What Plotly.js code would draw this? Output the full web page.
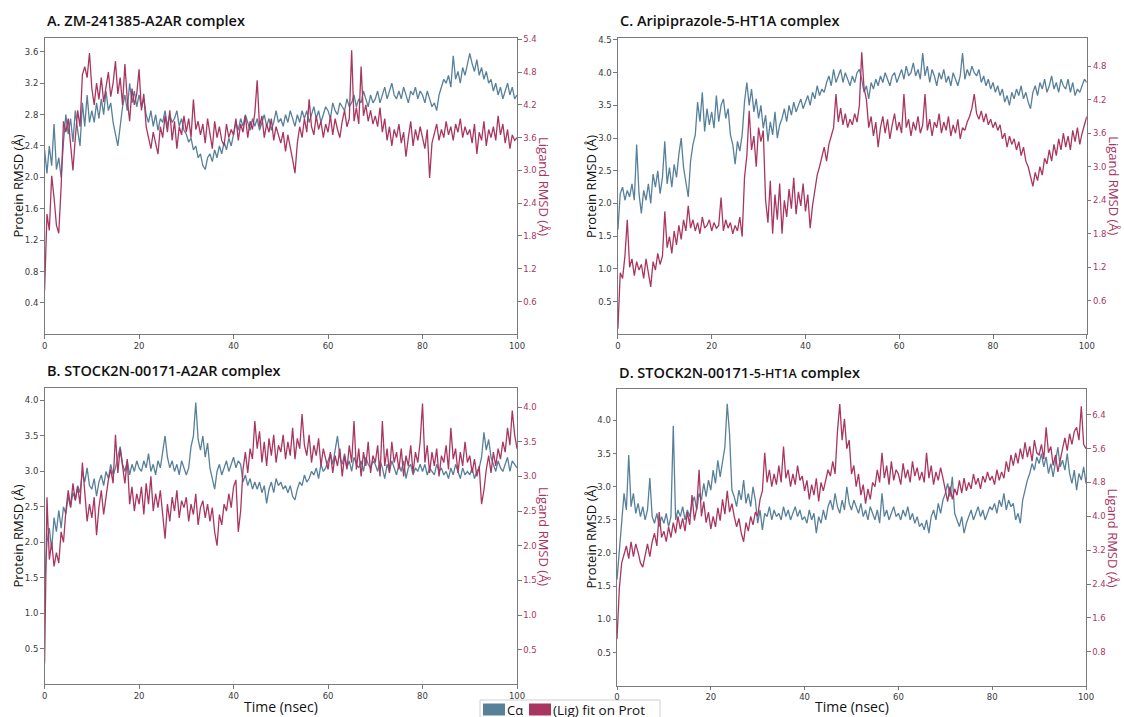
<!DOCTYPE html>
<html>
<head>
<meta charset="utf-8">
<script src="https://cdn.plot.ly/plotly-3.0.1.min.js"></script>
<style>html,body{margin:0;padding:0;background:#fff}#chart{width:1124px;height:717px}</style>
</head>
<body>
<div id="chart"></div>
<script>
// Time step of the sampled values (ns)
const timeStep = 0.5;

// Panel A: ZM-241385-A2AR
const protA = [
2.35,2.05,2.40,2.15,2.68,2.10,2.25,2.00,2.45,2.80,
2.55,2.75,2.45,2.85,2.60,2.40,2.95,2.65,3.05,2.70,
2.85,2.70,2.95,2.75,3.00,2.80,3.10,2.85,2.95,2.70,
2.55,2.40,2.65,2.90,3.05,2.85,3.20,2.95,3.10,2.90,
3.05,2.90,3.00,2.80,2.70,2.85,2.65,2.80,2.60,2.75,
2.70,2.85,2.65,2.80,2.70,2.75,2.85,2.65,2.75,2.60,
2.55,2.45,2.50,2.35,2.40,2.25,2.30,2.15,2.10,2.25,
2.30,2.20,2.35,2.25,2.40,2.30,2.45,2.35,2.50,2.40,
2.55,2.70,2.60,2.75,2.65,2.80,2.70,2.60,2.75,2.65,
2.75,2.60,2.70,2.80,2.65,2.75,2.60,2.70,2.85,2.70,
2.75,2.65,2.80,2.70,2.85,2.75,2.65,2.80,2.70,2.85,
2.75,2.85,2.70,2.80,2.90,2.75,2.85,2.70,2.80,2.90,
2.85,2.75,2.95,2.85,2.80,2.95,2.90,2.85,3.00,2.90,
2.95,3.05,2.90,3.00,2.95,3.10,3.00,2.90,3.05,2.95,
3.00,3.10,2.95,3.05,3.15,3.00,3.10,3.20,3.05,3.00,
3.10,3.00,3.15,3.05,2.95,3.10,3.05,3.15,3.00,3.10,
3.05,2.95,3.10,3.00,2.90,2.95,2.85,3.05,3.15,3.25,
3.20,3.30,3.15,3.55,3.25,3.35,3.20,3.40,3.30,3.45,
3.58,3.45,3.35,3.50,3.30,3.40,3.25,3.35,3.20,3.25,
3.10,3.20,3.05,3.15,3.00,3.10,3.20,3.05,3.15,3.00,
3.05];
const ligA = [
0.80,2.20,1.90,2.90,2.50,2.00,1.85,2.70,3.90,3.70,
3.95,3.40,3.00,3.60,4.10,3.80,4.75,4.90,4.70,5.15,
4.50,4.20,4.60,4.30,4.70,4.25,4.50,4.80,4.35,4.60,
5.00,4.40,4.70,4.20,4.95,4.30,3.90,4.50,4.20,4.40,
4.85,4.10,4.40,3.80,3.60,3.40,3.70,3.50,3.30,3.80,
3.60,4.00,3.70,4.10,3.55,3.90,3.40,3.80,3.65,4.00,
3.70,3.95,3.60,4.30,3.75,3.90,3.65,3.85,3.50,3.95,
3.70,3.40,3.90,3.60,3.80,3.55,3.45,3.85,3.60,3.75,
3.65,3.95,3.55,3.85,3.70,4.00,3.60,3.90,3.75,4.05,
4.65,3.80,4.00,3.60,3.85,3.70,3.95,3.55,3.80,3.65,
3.50,3.70,3.35,3.65,3.45,3.20,2.95,3.50,3.80,3.60,
3.95,3.70,4.30,3.80,3.65,4.00,3.75,3.90,3.60,3.85,
3.70,4.00,3.65,3.95,3.75,3.60,3.90,4.10,3.80,3.95,
5.20,3.90,4.15,3.85,4.90,4.00,4.20,3.90,4.10,3.85,
4.00,3.80,4.15,3.70,3.95,3.55,3.80,3.45,3.75,3.60,
3.85,3.50,3.70,3.25,3.60,3.90,3.45,3.75,3.55,3.80,
3.60,3.40,3.75,2.86,3.50,3.70,3.85,3.55,3.75,3.60,
3.90,3.65,3.80,3.55,3.85,3.70,3.95,3.60,3.80,3.65,
3.75,3.50,3.85,3.30,3.70,3.55,3.90,3.45,3.75,3.60,
3.80,3.55,4.00,3.65,3.85,3.50,3.75,3.40,3.65,3.55,
3.60];

// Panel C: Aripiprazole-5-HT1A
const protC = [
1.60,2.15,2.25,2.05,2.20,2.10,2.30,2.05,2.90,2.15,
1.85,2.20,2.05,2.30,2.00,2.45,2.25,2.50,2.15,2.40,
2.95,2.30,2.55,2.25,2.60,2.40,2.75,3.00,2.55,2.30,
2.10,2.65,2.90,3.05,3.55,3.25,3.70,3.10,3.45,3.20,
3.40,3.15,3.65,3.25,3.50,3.60,3.30,3.45,3.05,2.90,
2.60,2.95,2.80,3.05,3.55,3.85,3.50,3.75,3.40,3.60,
3.30,3.50,3.15,3.35,2.95,3.25,3.05,3.40,3.00,3.20,
3.30,3.45,3.25,3.50,3.35,3.55,3.40,3.50,3.60,3.45,
3.55,3.65,3.50,3.70,3.60,3.80,3.65,3.75,3.70,3.85,
3.95,3.80,4.05,3.85,3.95,4.05,3.85,4.00,3.90,3.80,
3.95,3.85,4.00,4.05,3.90,3.70,3.80,3.60,3.85,3.75,
3.90,3.80,3.95,3.85,4.00,3.90,3.80,3.95,4.00,3.85,
3.95,4.05,3.90,4.10,3.95,4.00,4.15,3.95,4.05,3.90,
4.30,3.95,4.10,3.85,4.05,3.95,3.80,4.00,3.90,4.05,
3.85,3.95,3.80,4.00,3.90,3.80,3.95,4.30,3.90,4.05,
3.95,4.10,4.00,3.95,4.05,3.85,3.95,3.80,3.90,3.75,
3.85,3.70,3.80,3.65,3.75,3.55,3.65,3.50,3.70,3.60,
3.75,3.65,3.80,3.60,3.70,3.55,3.45,3.70,3.80,3.65,
3.85,3.75,3.90,3.70,3.80,3.95,3.75,3.85,3.70,3.90,
3.80,3.75,3.90,3.70,3.85,3.65,3.75,3.70,3.80,3.90,
3.85];
const ligC = [
0.10,1.10,1.00,1.40,2.05,1.20,1.35,1.05,1.30,1.15,
1.25,1.00,1.35,1.10,0.85,1.30,1.15,1.45,1.25,1.40,
2.20,1.55,1.75,1.45,1.85,1.60,1.95,1.70,2.05,1.85,
2.30,1.90,2.05,1.85,2.00,1.80,2.10,1.90,1.95,2.05,
1.85,2.00,1.90,1.95,2.45,1.85,2.05,1.90,2.00,1.80,
1.95,1.85,2.10,1.75,2.80,3.20,4.00,3.30,3.55,3.00,
3.70,3.45,3.65,2.40,2.00,2.75,1.80,2.50,2.05,2.70,
1.80,2.40,2.10,2.60,2.25,2.80,2.15,2.55,2.30,2.70,
2.20,2.50,1.90,2.30,2.60,2.85,3.00,3.20,3.35,3.10,
3.40,3.55,3.70,4.30,3.80,4.05,3.75,3.95,3.70,3.85,
3.75,3.95,3.80,4.10,5.05,4.40,4.20,3.70,3.90,3.55,
3.80,3.35,3.70,3.90,3.60,3.85,3.50,3.75,3.95,3.65,
3.80,3.60,4.30,3.70,3.85,3.55,3.80,3.65,3.90,3.60,
3.75,4.30,3.65,3.85,3.55,3.80,3.70,3.95,3.60,3.80,
3.65,3.90,3.55,3.75,3.60,3.85,3.50,3.70,3.65,3.80,
3.90,4.05,4.30,3.95,3.85,4.00,3.80,3.95,3.75,3.85,
3.70,3.80,3.65,3.75,3.50,3.60,3.35,3.55,3.40,3.50,
3.30,3.45,3.20,3.35,3.10,3.00,2.80,2.65,2.90,2.75,
3.00,2.85,3.15,3.05,3.30,3.10,3.40,3.20,3.50,3.30,
3.60,3.35,3.55,3.30,3.65,3.45,3.70,3.40,3.60,3.75,
3.90];

// Panel B: STOCK2N-00171-A2AR
const protB = [
1.40,2.00,2.20,1.90,2.35,2.15,2.45,2.20,2.50,2.40,
2.65,2.50,2.70,2.60,2.80,2.70,3.00,2.85,3.05,2.80,
2.75,2.90,2.65,2.85,2.95,2.80,3.00,2.90,3.10,2.95,
3.05,3.20,3.35,3.10,3.00,3.15,2.95,3.10,3.00,3.15,
3.05,3.00,3.15,3.05,3.25,3.00,3.10,2.95,3.15,3.05,
3.25,3.50,3.20,3.05,3.15,3.00,3.10,2.95,3.15,3.05,
2.95,3.05,3.35,3.50,3.97,3.45,3.30,3.50,3.20,3.40,
3.05,2.90,2.75,3.00,3.10,2.95,3.05,3.15,3.00,3.10,
3.20,3.05,3.15,3.10,2.85,2.95,2.80,2.90,2.75,2.85,
2.75,2.85,2.70,2.80,2.55,2.75,2.85,2.70,2.90,2.80,
2.85,2.75,2.80,2.70,2.80,2.65,2.60,2.75,2.85,2.80,
2.95,2.85,2.90,3.00,2.95,3.05,2.90,3.10,3.00,3.05,
3.15,3.25,3.10,3.30,3.50,3.20,3.10,3.25,3.05,3.15,
3.00,3.20,3.10,3.05,3.15,3.00,3.20,3.10,3.05,3.15,
3.10,3.00,3.15,3.05,2.90,3.10,3.00,3.15,3.05,2.95,
3.10,3.00,3.15,2.90,3.05,3.10,2.95,3.05,3.00,3.10,
3.00,3.10,2.95,3.05,3.00,2.95,3.10,3.00,3.05,2.95,
3.00,2.90,3.05,2.95,3.10,3.00,2.90,3.05,2.95,3.00,
2.95,3.05,2.90,3.00,3.05,3.20,3.55,3.30,3.45,3.20,
3.10,3.00,3.15,3.05,3.00,3.10,3.20,3.00,3.15,3.10,
3.05];
const ligB = [
0.30,2.70,1.80,2.05,1.70,1.90,1.75,2.20,2.05,2.50,
2.80,2.55,2.90,2.65,2.85,2.60,3.20,2.70,2.35,2.60,
2.40,2.70,2.15,2.55,2.80,2.45,2.70,2.95,3.10,2.90,
3.60,3.05,3.40,3.15,2.90,3.25,2.60,2.85,2.50,2.75,
2.60,2.85,2.45,2.90,2.60,3.00,2.50,2.75,2.55,2.80,
2.40,2.10,2.60,2.35,2.70,2.50,2.80,2.40,2.65,2.55,
2.70,2.35,2.60,2.45,2.75,2.30,2.55,2.65,2.40,2.60,
2.35,2.55,2.20,2.00,2.45,2.30,2.60,2.50,2.75,2.55,
2.85,2.95,2.20,2.50,3.10,3.35,3.05,3.40,3.25,3.80,
3.40,3.65,3.20,3.50,3.15,3.55,3.30,3.60,3.20,3.45,
3.35,3.60,3.25,3.50,3.30,3.70,3.25,3.55,3.40,3.90,
3.45,3.30,3.60,3.20,3.45,3.30,3.55,3.15,3.40,3.25,
3.10,3.35,3.05,3.30,3.15,3.40,3.00,3.30,3.10,3.45,
3.20,3.80,3.10,3.40,3.00,3.35,3.15,3.50,3.05,3.30,
3.20,3.45,3.00,3.80,3.15,3.40,3.05,3.50,3.20,3.35,
3.10,3.40,3.00,3.30,3.15,3.45,3.05,3.35,3.20,3.50,
4.05,3.20,3.45,3.05,3.35,3.15,3.40,3.00,3.30,3.20,
3.45,3.10,3.70,3.25,3.40,3.05,3.35,3.15,3.50,3.20,
3.30,3.05,3.25,3.00,3.15,2.60,2.80,3.10,3.30,3.05,
3.35,3.15,3.40,3.25,3.50,3.35,3.70,3.45,3.95,3.60,
3.40];

// Panel D: STOCK2N-00171-5-HT1A
const protD = [
1.60,2.05,2.40,2.90,2.65,3.48,2.70,2.90,2.60,2.75,
2.55,2.70,2.50,2.65,3.13,2.55,2.45,2.60,2.40,2.55,
2.45,2.60,2.40,2.55,3.92,2.50,2.65,2.55,2.70,2.50,
2.65,2.55,2.75,2.85,2.65,2.90,2.80,3.05,2.85,3.10,
2.95,3.25,3.05,3.40,3.15,3.35,3.60,4.25,3.80,2.95,
2.85,2.70,2.95,2.80,3.10,2.75,2.90,2.70,3.00,2.80,
2.45,2.65,2.35,2.60,2.55,2.70,2.50,2.65,2.55,2.60,
2.50,2.70,2.55,2.65,2.50,2.60,2.70,2.55,2.65,2.50,
2.55,2.45,2.65,2.50,2.60,2.30,2.55,2.45,2.65,2.50,
2.70,2.80,2.65,2.90,2.70,2.60,2.80,2.65,3.00,2.75,
2.65,2.80,2.70,2.60,2.75,2.55,2.65,2.50,2.70,2.60,
2.50,2.65,2.45,2.90,2.55,2.65,2.50,2.60,2.70,2.55,
2.60,2.50,2.65,2.55,2.70,2.50,2.60,2.45,2.55,2.40,
2.45,2.35,2.50,2.30,2.55,2.65,2.50,2.75,2.60,2.80,
2.90,3.05,2.85,3.15,2.60,2.50,2.40,2.55,2.30,2.45,
2.55,2.65,2.50,2.60,2.70,2.55,2.65,2.50,2.60,2.70,
2.65,2.75,2.60,2.80,2.70,2.90,2.65,2.80,2.70,2.75,
2.50,2.60,2.45,2.80,2.95,3.10,3.20,3.35,3.25,3.45,
3.35,3.50,3.30,3.45,3.20,3.35,3.15,3.40,3.60,3.30,
3.40,3.25,3.50,3.20,3.05,3.25,2.95,3.20,3.10,3.30,
3.05];
const ligD = [
1.10,2.30,2.90,3.10,3.30,3.00,3.40,3.05,3.35,3.15,
2.90,2.80,3.10,3.35,3.05,3.40,3.60,3.30,4.10,3.50,
3.65,3.40,3.75,3.50,3.85,3.60,4.00,3.70,3.95,3.65,
4.10,3.80,4.50,3.90,4.20,5.10,4.00,4.35,3.85,4.10,
3.70,4.00,3.75,4.20,3.90,4.40,4.05,4.60,4.10,4.30,
4.00,3.75,3.95,3.60,3.40,3.85,3.65,4.00,3.80,4.10,
4.00,4.40,4.60,5.50,4.80,5.10,4.70,5.00,4.75,5.20,
4.80,5.65,4.90,5.10,4.70,5.00,4.75,5.20,4.85,4.95,
4.60,4.85,4.40,4.75,4.50,4.90,4.35,4.80,4.60,4.85,
5.10,4.95,5.30,5.00,6.00,6.65,5.80,6.30,5.60,5.80,
5.00,5.20,4.70,5.00,4.50,4.75,4.30,4.65,4.40,4.80,
4.70,5.10,4.80,5.50,4.90,5.20,4.75,5.30,4.85,5.10,
5.00,4.75,5.25,4.90,5.10,4.80,5.30,4.95,5.15,4.85,
5.05,4.80,5.50,4.90,5.20,4.75,5.05,4.85,5.15,4.90,
4.60,4.35,4.70,4.40,4.65,4.50,4.85,4.55,4.90,4.60,
4.80,4.65,5.00,4.75,4.90,4.65,4.95,4.80,5.05,4.85,
4.95,4.75,5.10,4.85,5.05,4.90,5.30,5.05,5.45,5.20,
5.50,5.25,5.60,5.35,5.75,5.40,5.65,5.30,5.80,5.50,
5.45,5.70,5.35,6.10,5.50,5.65,5.20,5.45,5.05,5.35,
5.60,5.85,5.55,5.95,5.70,6.00,6.10,5.80,6.60,5.70,
5.60];

// Tick labels
const xTicks = [0, 20, 40, 60, 80, 100];
const leftTicksA = [0.4, 0.8, 1.2, 1.6, 2.0, 2.4, 2.8, 3.2, 3.6];
const rightTicksA = [0.6, 1.2, 1.8, 2.4, 3.0, 3.6, 4.2, 4.8, 5.4];
const leftTicksC = [0.5, 1.0, 1.5, 2.0, 2.5, 3.0, 3.5, 4.0, 4.5];
const rightTicksC = [0.6, 1.2, 1.8, 2.4, 3.0, 3.6, 4.2, 4.8];
const leftTicksB = [0.5, 1.0, 1.5, 2.0, 2.5, 3.0, 3.5, 4.0];
const rightTicksB = [0.5, 1.0, 1.5, 2.0, 2.5, 3.0, 3.5, 4.0];
const leftTicksD = [0.5, 1.0, 1.5, 2.0, 2.5, 3.0, 3.5, 4.0];
const rightTicksD = [0.8, 1.6, 2.4, 3.2, 4.0, 4.8, 5.6, 6.4];

const panelTitles = [
  "A. ZM-241385-A2AR complex",
  "C. Aripiprazole-5-HT1A complex",
  "B. STOCK2N-00171-A2AR complex",
  "D. STOCK2N-00171-<span style=\"font-size:12.5px\">5-HT1A</span> complex"
];
const legendLabels = ["C\u03b1", "(Lig) fit on Prot"];

// ---------- build ----------
const W = 1124, H = 717;
const BLUE = "#57809b", RED = "#a8365f", FRAME = "#7a7a7a";
const time = protA.map((_, i) => i * timeStep);
const px = v => v / W;
const py = v => 1 - v / H;

const panels = [
  {p: protA, l: ligA, x0: 44.6, x1: 517, y0: 37.7, y1: 334.3, lr: [0, 3.78], rr: [0, 5.43], lt: leftTicksA, rt: rightTicksA, xt: false},
  {p: protC, l: ligC, x0: 617.9, x1: 1086.8, y0: 37.7, y1: 334.3, lr: [0, 4.535], rr: [0, 5.31], lt: leftTicksC, rt: rightTicksC, xt: false},
  {p: protB, l: ligB, x0: 44.6, x1: 517, y0: 387.7, y1: 684.3, lr: [0, 4.18], rr: [0, 4.28], lt: leftTicksB, rt: rightTicksB, xt: true},
  {p: protD, l: ligD, x0: 617, x1: 1086, y0: 389.3, y1: 685.7, lr: [0, 4.47], rr: [0, 7.0], lt: leftTicksD, rt: rightTicksD, xt: true}
];

const data = [];
const layout = {
  width: W, height: H,
  margin: {l: 0, r: 0, t: 0, b: 0},
  paper_bgcolor: "#fff", plot_bgcolor: "#fff",
  showlegend: false,
  font: {family: "DejaVu Sans, sans-serif", size: 9, color: "#333"},
  annotations: [], shapes: []
};
const tickFont = {family: "DejaVu Sans, sans-serif", size: 8.5, color: "#3a3a3a"};

panels.forEach((pn, k) => {
  const xi = k + 1, yl = 2 * k + 1, yr = 2 * k + 2;
  const xName = xi === 1 ? "x" : "x" + xi;
  const ylName = yl === 1 ? "y" : "y" + yl;
  const yrName = "y" + yr;
  const xKey = xi === 1 ? "xaxis" : "xaxis" + xi;
  const ylKey = yl === 1 ? "yaxis" : "yaxis" + yl;
  const yrKey = "yaxis" + yr;
  const dom = [py(pn.y1), py(pn.y0)];
  layout[xKey] = {
    domain: [px(pn.x0), px(pn.x1)], anchor: ylName, range: [0, 100],
    tickvals: xTicks, ticks: "outside", ticklen: 3.5, tickcolor: FRAME, tickwidth: 1,
    showline: true, linecolor: FRAME, linewidth: 1, mirror: true,
    showgrid: false, zeroline: false, tickfont: tickFont, fixedrange: true
  };
  layout[ylKey] = {
    domain: dom, anchor: xName, range: pn.lr,
    tickvals: pn.lt, tickformat: ".1f", ticks: "outside", ticklen: 3.5, tickcolor: FRAME,
    showline: true, linecolor: FRAME, linewidth: 1,
    showgrid: false, zeroline: false, tickfont: tickFont, fixedrange: true
  };
  layout[yrKey] = {
    domain: dom, anchor: xName, overlaying: ylName, side: "right", range: pn.rr,
    tickvals: pn.rt, tickformat: ".1f", ticks: "outside", ticklen: 3.5, tickcolor: FRAME,
    showline: true, linecolor: FRAME, linewidth: 1,
    showgrid: false, zeroline: false,
    tickfont: {family: "DejaVu Sans, sans-serif", size: 8.5, color: "#a8365f"}, fixedrange: true
  };
  data.push({x: time, y: pn.p, xaxis: xName, yaxis: ylName, type: "scatter", mode: "lines",
    line: {color: BLUE, width: 1.3}, name: legendLabels[0], hoverinfo: "skip"});
  data.push({x: time, y: pn.l, xaxis: xName, yaxis: yrName, type: "scatter", mode: "lines",
    line: {color: RED, width: 1.3}, name: legendLabels[1], hoverinfo: "skip"});

  // panel title
  layout.annotations.push({
    text: panelTitles[k], xref: "paper", yref: "paper",
    x: px(pn.x0), y: py(pn.y0 - 17), xanchor: "left", yanchor: "middle", showarrow: false,
    font: {family: "Open Sans, sans-serif", size: 14.5, color: "#111", weight: 600}
  });
  const yMid = py((pn.y0 + pn.y1) / 2);
  layout.annotations.push({
    text: "Protein RMSD (\u00c5)", xref: "paper", yref: "paper",
    x: px(pn.x0 - 27), y: yMid, xanchor: "center", yanchor: "middle", textangle: -90, showarrow: false,
    font: {family: "Open Sans, sans-serif", size: 13, color: "#111"}
  });
  layout.annotations.push({
    text: "Ligand RMSD (\u00c5)", xref: "paper", yref: "paper",
    x: px(pn.x1 + 27), y: yMid, xanchor: "center", yanchor: "middle", textangle: 90, showarrow: false,
    font: {family: "Open Sans, sans-serif", size: 13, color: "#a8365f"}
  });
  if (pn.xt) {
    layout.annotations.push({
      text: "Time (nsec)", xref: "paper", yref: "paper",
      x: px((pn.x0 + pn.x1) / 2), y: py(706), xanchor: "center", yanchor: "middle", showarrow: false,
      font: {family: "Open Sans, sans-serif", size: 14, color: "#111"}
    });
  }
});

// legend box at bottom centre
layout.shapes.push({type: "rect", xref: "paper", yref: "paper", x0: px(480), x1: px(660), y0: py(717.5), y1: py(700),
  line: {color: "#cfcfcf", width: 1}, fillcolor: "rgba(255,255,255,0.9)", layer: "below"});
layout.shapes.push({type: "rect", xref: "paper", yref: "paper", x0: px(483), x1: px(505), y0: py(715.5), y1: py(703.5),
  line: {width: 0}, fillcolor: BLUE});
layout.shapes.push({type: "rect", xref: "paper", yref: "paper", x0: px(529), x1: px(551), y0: py(715.5), y1: py(703.5),
  line: {width: 0}, fillcolor: RED});
layout.annotations.push({text: legendLabels[0], xref: "paper", yref: "paper", x: px(505), y: py(709),
  xanchor: "left", yanchor: "middle", showarrow: false, height: 15,
  font: {family: "Open Sans, sans-serif", size: 13, color: "#111"}});
layout.annotations.push({text: legendLabels[1], xref: "paper", yref: "paper", x: px(551), y: py(709),
  xanchor: "left", yanchor: "middle", showarrow: false, height: 15,
  font: {family: "Open Sans, sans-serif", size: 13.5, color: "#111"}});

Plotly.newPlot("chart", data, layout, {displayModeBar: false, staticPlot: true});
</script>
</body>
</html>
